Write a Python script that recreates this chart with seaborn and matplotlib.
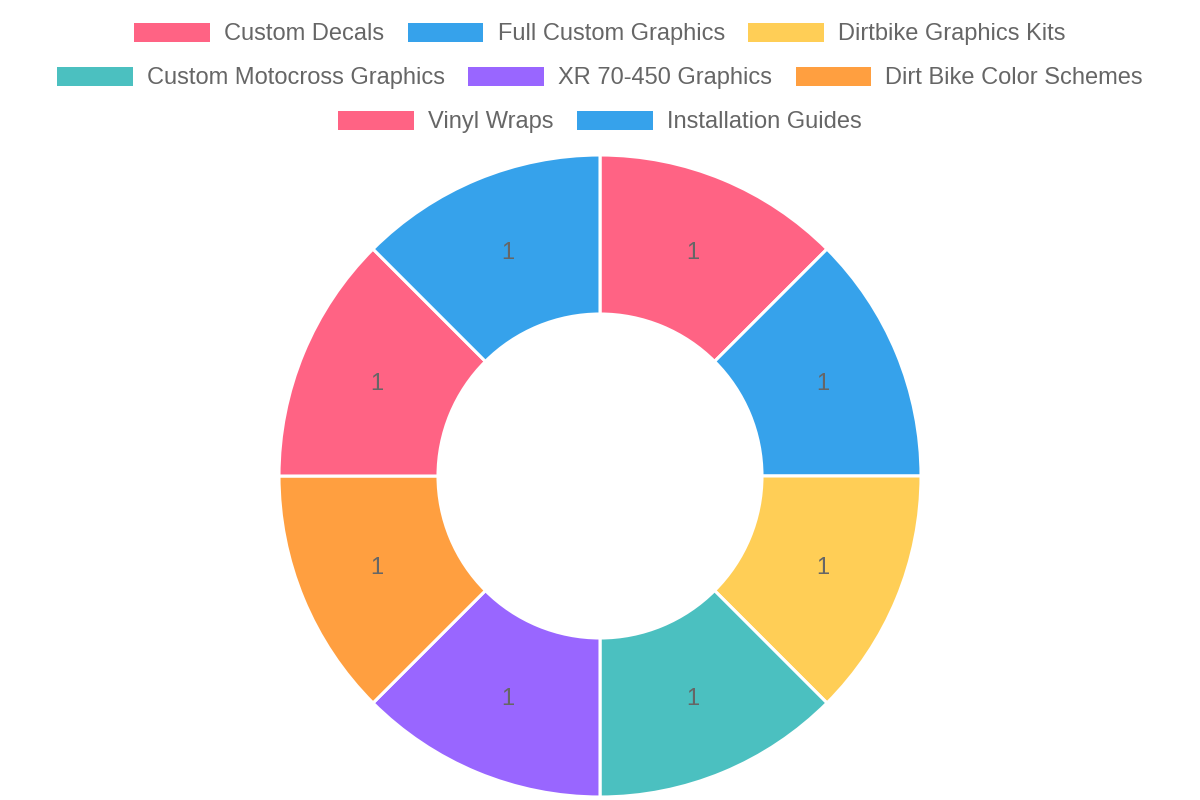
import matplotlib
matplotlib.use("Agg")
import matplotlib.pyplot as plt
import matplotlib.patches as mpatches
import seaborn as sns

# ---------------------------------------------------------------------------
# Data
# ---------------------------------------------------------------------------
categories = [
    "Custom Decals", "Full Custom Graphics", "Dirtbike Graphics Kits",
    "Custom Motocross Graphics", "XR 70-450 Graphics", "Dirt Bike Color Schemes",
    "Vinyl Wraps", "Installation Guides",
]
values = [1, 1, 1, 1, 1, 1, 1, 1]
colours = sns.color_palette(["#FF6384", "#36A2EB", "#FFCE56", "#4BC0C0",
                             "#9966FF", "#FF9F40", "#FF6384", "#36A2EB"])
legend_rows = [[0, 1, 2], [3, 4, 5], [6, 7]]

sns.set_theme(style="white")
plt.rcParams["font.family"] = ["Liberation Sans", "DejaVu Sans"]
TEXT = "#666666"

fig = plt.figure(figsize=(12, 8), dpi=100)
ax = fig.add_axes([0, 0, 1, 1])

# doughnut, pixel-sized data space (origin bottom-left)
outer, inner = 321, 162
wedges, texts = ax.pie(
    values, labels=[str(v) for v in values], colors=colours,
    startangle=90, counterclock=False, center=(600, 324), radius=outer,
    labeldistance=(outer + inner) / 2 / outer,
    wedgeprops=dict(width=outer - inner, edgecolor="white", linewidth=2.2),
    textprops=dict(color=TEXT, fontsize=17), frame=False,
)
for t in texts:
    t.set_ha("center")
    t.set_va("center")

ax.set_xlim(0, 1200)
ax.set_ylim(0, 800)
ax.set_aspect("equal")
ax.axis("off")

# legend: three centred rows
for r, row in enumerate(legend_rows):
    handles = [mpatches.Patch(facecolor=colours[i], edgecolor="none") for i in row]
    labels = [categories[i] for i in row]
    fig.legend(handles, labels, loc="center", ncol=len(row),
               bbox_to_anchor=(0.5, 1 - (34 + 44 * r) / 800),
               frameon=False, fontsize=17, labelcolor=TEXT,
               handlelength=3.2, handleheight=0.85, handletextpad=0.6,
               columnspacing=1.0, borderpad=0, borderaxespad=0)

plt.savefig("out.png", dpi=100)
